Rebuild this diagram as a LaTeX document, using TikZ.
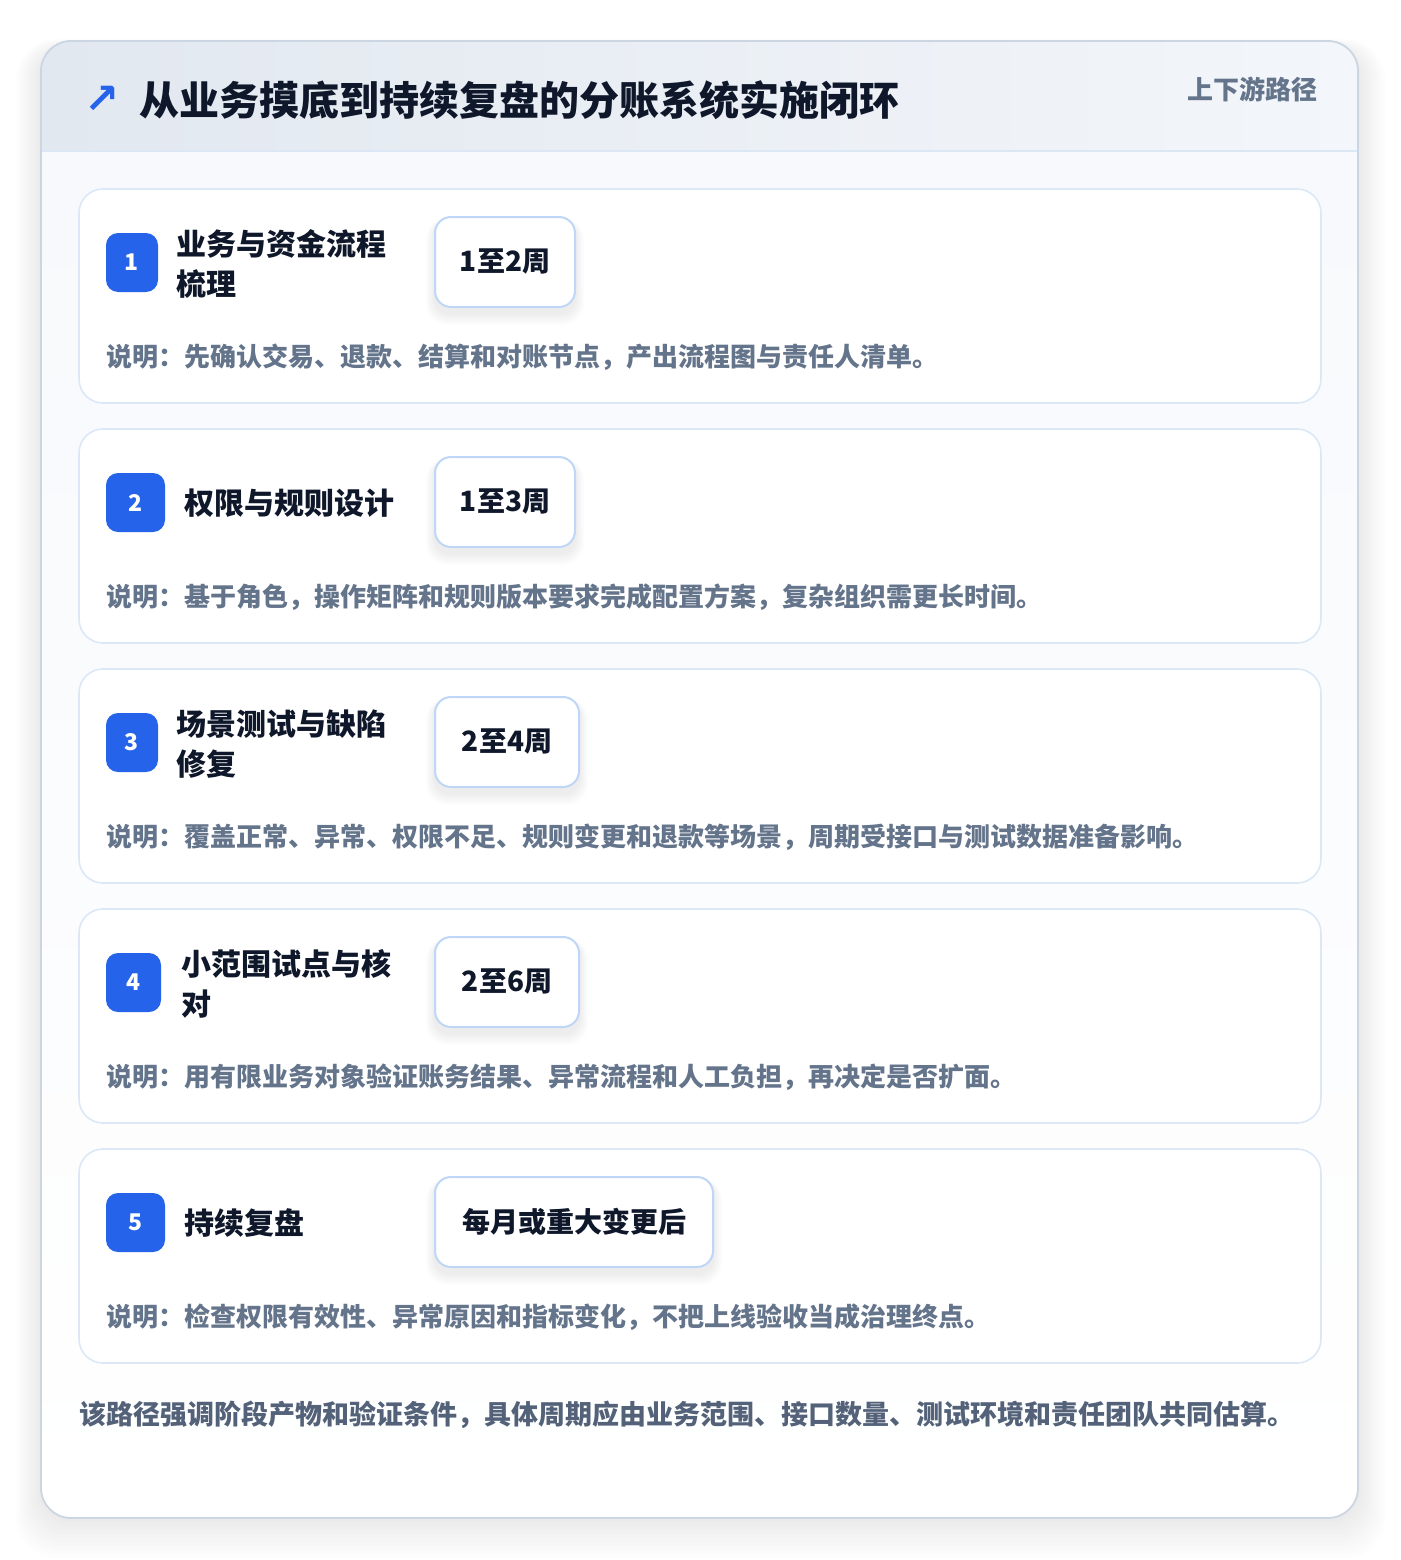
\documentclass[tikz,border=0pt]{standalone}
\usepackage{fontspec}
\setmainfont{Noto Sans CJK SC}
\newfontfamily\symfont{DejaVu Sans}
\usetikzlibrary{calc}
\definecolor{pageShadow}{HTML}{1E293B}
\definecolor{panelBorder}{HTML}{CCD5E2}
\definecolor{hdrL}{HTML}{E2E8F0}
\definecolor{hdrR}{HTML}{F3F6FA}
\definecolor{hdrLine}{HTML}{DCE7F5}
\definecolor{bodyTop}{HTML}{F7F9FC}
\definecolor{cardBorder}{HTML}{DCE8F8}
\definecolor{durBorder}{HTML}{BFD6F6}
\definecolor{badgeBlue}{HTML}{2563EB}
\definecolor{ink}{HTML}{0F172A}
\definecolor{muted}{HTML}{64748B}
\definecolor{footInk}{HTML}{536179}
\tikzset{
  card/.style={draw=cardBorder, line width=1.6pt, fill=white, rounded corners=24pt,
    minimum width=1242pt, minimum height=214pt, inner sep=0pt},
  badge/.style={fill=badgeBlue, rounded corners=12pt, minimum height=59pt, inner sep=0pt,
    text=white, font=\fontsize{23}{23}\selectfont\bfseries},
  ttl/.style={anchor=west, align=left, inner sep=0pt, text=ink,
    font=\fontsize{30}{40}\selectfont\bfseries},
  durbox/.style={draw=durBorder, line width=2pt, fill=white, rounded corners=16pt,
    minimum height=90pt, inner sep=0pt, text=ink, font=\fontsize{28}{28}\selectfont\bfseries},
  desc/.style={anchor=west, inner sep=0pt, text=muted, font=\fontsize{26}{26}\selectfont\bfseries},
}
\newcommand{\durshadow}[4]{%
  \foreach \k in {1,...,6}{%
    \fill[pageShadow, opacity=0.010, rounded corners=16pt+\k pt]
      (#1-\k*1.5, #2+4-\k*0.5) rectangle (#3+\k*1.5, #4+6+\k*2);}%
}
\begin{document}
\begin{tikzpicture}[x=1pt,y=-1pt]
\useasboundingbox (0,0) rectangle (1400,1560);
\fill[white] (0,0) rectangle (1400,1560);
% panel shadow
\foreach \k in {1,...,10}{
  \fill[pageShadow, opacity=0.009, rounded corners=30pt+\k pt]
    (41-\k*2.5, 41-\k*1+8) rectangle (1358+\k*2.7, 1518+\k*4);
}
% panel body
\node[draw=none, fill=white, rounded corners=30pt, minimum width=1317pt, minimum height=1477pt,
  inner sep=0pt] (panel) at (699.5,779.5) {};
\begin{scope}
  \clip[rounded corners=30pt] (41,41) rectangle (1358,1518);
  \shade[top color=bodyTop, bottom color=white] (41,151) rectangle (1358,1518);
  \shade[left color=hdrL, right color=hdrR] (41,41) rectangle (1358,151);
\end{scope}
\coordinate (hl) at (41,151);
\coordinate (hr) at (1358,151);
\draw[hdrLine, line width=1.6pt] (hl) -- (hr);
\draw[panelBorder, line width=1.8pt, rounded corners=30pt] (41,41) rectangle (1358,1518);
% header
\node[anchor=center, inner sep=0pt, text=badgeBlue, font=\symfont\fontsize{42}{42}\selectfont\bfseries]
  (arrow) at (102,100) {↗};
\node[anchor=west, inner sep=0pt, text=ink, font=\fontsize{40}{40}\selectfont\bfseries]
  (title) at (139,100) {从业务摸底到持续复盘的分账系统实施闭环};
\node[anchor=east, inner sep=0pt, text=muted, font=\fontsize{26}{26}\selectfont\bfseries]
  (tag) at (1318,89) {上下游路径};

% card 1
\node[card] (c1) at (700,296) {};
\node[badge, minimum width=52pt] (b1) at (132,262.5) {1};
\node[ttl] (t1) at (176,264) {业务与资金流程\\梳理};
\durshadow{435}{217}{575}{307}
\node[durbox, minimum width=140pt] (d1) at (505,262) {1至2周};
\node[desc] (s1) at (106,357) {说明：先确认交易、退款、结算和对账节点，产出流程图与责任人清单。};

% card 2
\node[card] (c2) at (700,536) {};
\node[badge, minimum width=59pt] (b2) at (135.5,502.5) {2};
\node[ttl] (t2) at (184,503) {权限与规则设计};
\durshadow{435}{457}{575}{547}
\node[durbox, minimum width=140pt] (d2) at (505,502) {1至3周};
\node[desc] (s2) at (106,597) {说明：基于角色，操作矩阵和规则版本要求完成配置方案，复杂组织需更长时间。};

% card 3
\node[card] (c3) at (700,776) {};
\node[badge, minimum width=52pt] (b3) at (132,742.5) {3};
\node[ttl] (t3) at (176,744) {场景测试与缺陷\\修复};
\durshadow{435}{697}{579}{787}
\node[durbox, minimum width=144pt] (d3) at (507,742) {2至4周};
\node[desc] (s3) at (106,837) {说明：覆盖正常、异常、权限不足、规则变更和退款等场景，周期受接口与测试数据准备影响。};

% card 4
\node[card] (c4) at (700,1016) {};
\node[badge, minimum width=55pt] (b4) at (133.5,982.5) {4};
\node[ttl] (t4) at (181,984) {小范围试点与核\\对};
\durshadow{435}{937}{579}{1027}
\node[durbox, minimum width=144pt] (d4) at (507,982) {2至6周};
\node[desc] (s4) at (106,1077) {说明：用有限业务对象验证账务结果、异常流程和人工负担，再决定是否扩面。};

% card 5
\node[card] (c5) at (700,1256) {};
\node[badge, minimum width=59pt] (b5) at (135.5,1222.5) {5};
\node[ttl] (t5) at (184,1223) {持续复盘};
\durshadow{435}{1177}{713}{1267}
\node[durbox, minimum width=278pt] (d5) at (574,1222) {每月或重大变更后};
\node[desc] (s5) at (106,1317) {说明：检查权限有效性、异常原因和指标变化，不把上线验收当成治理终点。};

% footer
\node[anchor=west, inner sep=0pt, text=footInk, font=\fontsize{27}{27}\selectfont\bfseries]
  (foot) at (79,1415) {该路径强调阶段产物和验证条件，具体周期应由业务范围、接口数量、测试环境和责任团队共同估算。};
\end{tikzpicture}
\end{document}
